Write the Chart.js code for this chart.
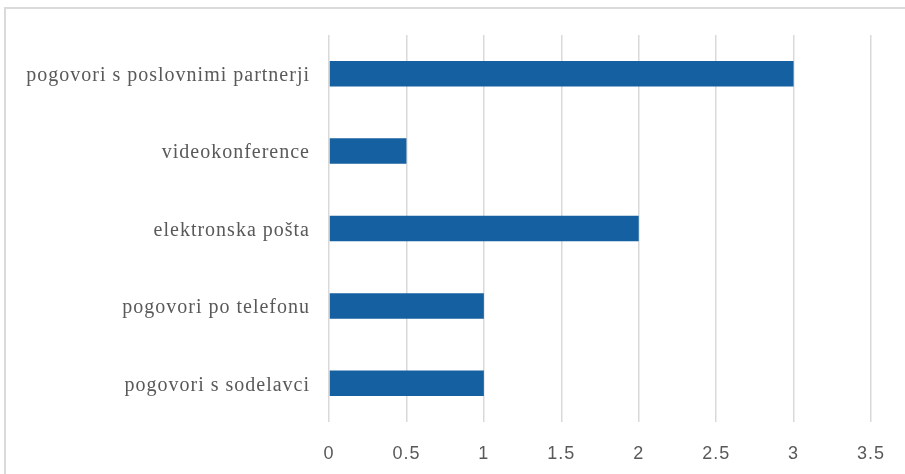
<!DOCTYPE html>
<html>
<head>
<meta charset="utf-8">
<script src="https://cdn.jsdelivr.net/npm/chart.js@4"></script>
<style>
  html, body { margin: 0; padding: 0; background: #fff; }
  #wrap { position: relative; width: 905px; height: 474px; }
</style>
</head>
<body>
<div id="wrap"><canvas id="chart"></canvas></div>
<script>
// Categories top to bottom, with one value each
const categories = [
  "pogovori s poslovnimi partnerji",
  "videokonference",
  "elektronska pošta",
  "pogovori po telefonu",
  "pogovori s sodelavci",
];
const values = [3, 0.5, 2, 1, 1];
const axisMax = 3.5;
const axisStep = 0.5;

// Light frame along the top and left edges, plus a bit of letter spacing for all text
const frame = {
  id: "frame",
  beforeDraw(chart) {
    const { ctx, width } = chart;
    ctx.save();
    ctx.strokeStyle = "#dadada";
    ctx.lineWidth = 2;
    ctx.beginPath();
    ctx.moveTo(width, 8);
    ctx.lineTo(5, 8);
    ctx.lineTo(5, chart.height);
    ctx.stroke();
    ctx.restore();
    ctx.letterSpacing = "1px";
  },
};

new Chart(document.getElementById("chart"), {
  type: "bar",
  data: {
    labels: categories,
    datasets: [
      {
        data: values,
        backgroundColor: "#1560a0",
        borderWidth: 0,
        barPercentage: 0.33,
        categoryPercentage: 1,
      },
    ],
  },
  options: {
    indexAxis: "y",
    responsive: true,
    maintainAspectRatio: false,
    animation: false,
    layout: { padding: { top: 35, right: 34, bottom: 0, left: 0 } },
    plugins: {
      legend: { display: false },
      tooltip: { enabled: false },
    },
    scales: {
      x: {
        min: 0,
        max: axisMax,
        grid: { color: "#d9d9d9", lineWidth: 1.5, drawTicks: false },
        border: { display: false },
        ticks: {
          stepSize: axisStep,
          padding: 21,
          color: "#595959",
          font: { family: "'Liberation Sans Narrow', 'Liberation Sans', sans-serif", size: 18 },
          callback: (v) => String(v),
        },
        afterFit: (s) => { s.height = 52; },
      },
      y: {
        grid: { display: false, drawTicks: false },
        border: { display: false },
        ticks: {
          padding: 19,
          labelOffset: 2,
          color: "#595959",
          font: { family: "'Liberation Serif', serif", size: 20 },
        },
        afterFit: (s) => { s.width = 329; },
      },
    },
  },
  plugins: [frame],
});
</script>
</body>
</html>
